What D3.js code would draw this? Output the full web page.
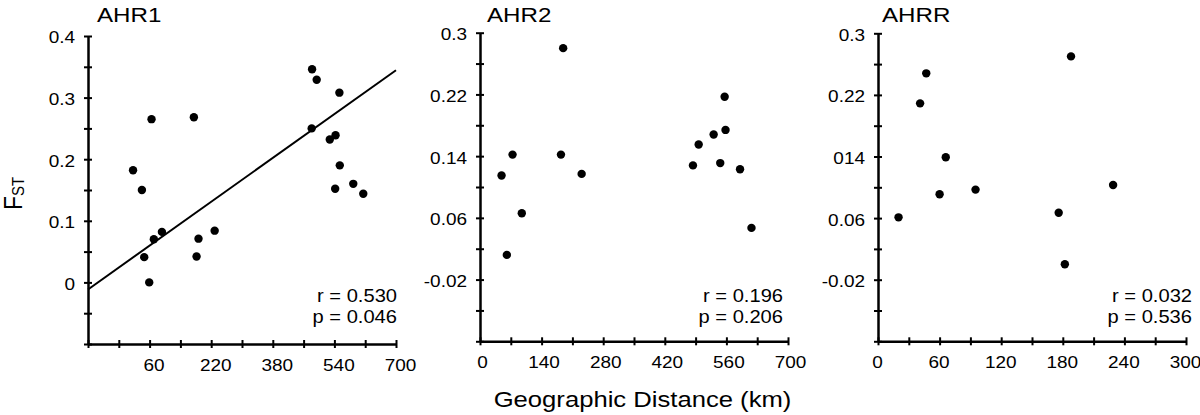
<!DOCTYPE html>
<html>
<head>
<meta charset="utf-8">
<script src="https://cdn.jsdelivr.net/npm/d3@7"></script>
<style>
    body { margin: 0; background: #fff; }
    svg { display: block; }
    text { font-family: "Liberation Sans", Arial, Helvetica, sans-serif; fill: #000; }
</style>
</head>
<body>
<div class="fst-chart"></div>
<script>
// 数据：地理距离 (km) 与 FST
const ahr1Dist = [17, 40, 65, 175, 46, 59, 71, 92, 182, 187, 229, 482, 494, 553, 481, 528, 543, 554, 542, 589, 615]
const ahr1Fst = [0.182, 0.150, 0.265, 0.268, 0.041, 0.000, 0.070, 0.082, 0.042, 0.071, 0.084, 0.346, 0.329, 0.308, 0.250, 0.232, 0.239, 0.190, 0.152, 0.160, 0.144]

const ahr2Dist = [49, 61, 74, 95, 189, 184, 231, 484, 497, 531, 556, 558, 546, 591, 617]
const ahr2Fst = [0.115, 0.012, 0.142, 0.066, 0.280, 0.142, 0.117, 0.128, 0.155, 0.168, 0.217, 0.174, 0.131, 0.123, 0.047]

const ahrrDist = [20, 41, 47, 60, 66, 95, 176, 182, 188, 229]
const ahrrFst = [0.061, 0.209, 0.248, 0.091, 0.139, 0.097, 0.067, 0.000, 0.270, 0.103]

// 刻度标签
const ahr1XLabels = [60, 220, 380, 540, 700]
const ahr2XLabels = [0, 140, 280, 420, 560, 700]
const ahrrXLabels = [0, 60, 120, 180, 240, 300]
const ahr1YTicks = [0, 0.1, 0.2, 0.3, 0.4]
const ahr1YLabels = ['0', '0.1', '0.2', '0.3', '0.4']
const ahr2YTicks = [-0.02, 0.06, 0.14, 0.22, 0.3]
const ahr2YLabels = ['-0.02', '0.06', '0.14', '0.22', '0.3']
const ahrrYLabels = ['-0.02', '0.06', '014', '0.22', '0.3']

const panelTitles = ['AHR1', 'AHR2', 'AHRR']
const rValues = ['0.530', '0.196', '0.032']
const pValues = ['0.046', '0.206', '0.536']

const width = 1200
const height = 415
const stretch = 1.15   // 原图文字横向被拉宽

const panels = [
    { title: panelTitles[0], xs: ahr1Dist, ys: ahr1Fst, fit: true,
      left: 88, right: 396, top: 36, bottom: 344,
      xDomain: [-100, 700], xStep: 80, xLabels: ahr1XLabels, xShift: 4,
      yDomain: [-0.1, 0.4], yStep: 0.05, yTicks: ahr1YTicks, yLabels: ahr1YLabels,
      titleX: 97, statX: 397, r: rValues[0], p: pValues[0] },
    { title: panelTitles[1], xs: ahr2Dist, ys: ahr2Fst, fit: false,
      left: 480, right: 788, top: 32.7, bottom: 341.3,
      xDomain: [0, 700], xStep: 70, xLabels: ahr2XLabels, xShift: 2,
      yDomain: [-0.1, 0.3], yStep: 0.04, yTicks: ahr2YTicks, yLabels: ahr2YLabels,
      titleX: 487, statX: 783, r: rValues[1], p: pValues[1] },
    { title: panelTitles[2], xs: ahrrDist, ys: ahrrFst, fit: false,
      left: 878, right: 1186, top: 33.3, bottom: 341.3,
      xDomain: [0, 300], xStep: 30, xLabels: ahrrXLabels, xShift: -1,
      yDomain: [-0.1, 0.3], yStep: 0.04, yTicks: ahr2YTicks, yLabels: ahrrYLabels,
      titleX: 882, statX: 1192, r: rValues[2], p: pValues[2] }
]

const svg = d3.select('.fst-chart')
    .append('svg')
    .attr('width', width)
    .attr('height', height)

function steps(domain, step) {
    let n = Math.round((domain[1] - domain[0]) / step)
    return d3.range(n + 1).map(i => domain[0] + i * step)
}

function findLabel(values, labels, v) {
    let i = values.findIndex(d => Math.abs(d - v) < 1e-9)
    return i < 0 ? '' : labels[i]
}

function drawPanel(cfg) {
    let xScale = d3.scaleLinear().domain(cfg.xDomain).range([cfg.left, cfg.right])
    let yScale = d3.scaleLinear().domain(cfg.yDomain).range([cfg.bottom, cfg.top])
    let g = svg.append('g')

    //x轴
    let xAxis = d3.axisBottom(xScale)
        .tickValues(steps(cfg.xDomain, cfg.xStep))
        .tickSizeInner(4)
        .tickSizeOuter(0)
        .tickFormat(v => findLabel(cfg.xLabels, cfg.xLabels.map(String), v))
    let gx = g.append('g')
        .attr('transform', 'translate(0,' + cfg.bottom + ')')
        .call(xAxis)
    gx.selectAll('.tick line').attr('y1', -4).attr('stroke-width', 2)
    gx.selectAll('.tick text')
        .style('font-size', '16.5px')
        .attr('y', 0).attr('dy', 0)
        .attr('transform', 'translate(' + cfg.xShift + ',27) scale(' + stretch + ',1)')

    //y轴
    let yAxis = d3.axisLeft(yScale)
        .tickValues(steps(cfg.yDomain, cfg.yStep))
        .tickSizeInner(4)
        .tickSizeOuter(0)
        .tickFormat(v => findLabel(cfg.yTicks, cfg.yLabels, v))
    let gy = g.append('g')
        .attr('transform', 'translate(' + cfg.left + ',0)')
        .call(yAxis)
    gy.selectAll('.tick line').attr('x1', 4).attr('stroke-width', 2)
    gy.selectAll('.tick text')
        .style('font-size', '16.5px')
        .attr('x', -13 / stretch)
        .attr('dy', '0.42em')
        .attr('transform', 'scale(' + stretch + ',1)')

    g.selectAll('.domain').attr('stroke-width', 2.5)
    g.selectAll('.tick line').attr('stroke', '#000')
    g.selectAll('.domain').attr('stroke', '#000')

    //回归线（约化主轴，过均值点）
    if (cfg.fit) {
        let mx = d3.mean(cfg.xs), my = d3.mean(cfg.ys)
        let slope = d3.deviation(cfg.ys) / d3.deviation(cfg.xs)
        let line = d3.line().x(d => xScale(d)).y(d => yScale(my + slope * (d - mx)))
        g.append('path')
            .attr('d', line(cfg.xDomain))
            .attr('fill', 'none')
            .attr('stroke', '#000')
            .attr('stroke-width', 2)
    }

    //散点
    g.selectAll('circle')
        .data(cfg.xs)
        .enter()
        .append('circle')
        .attr('cx', d => xScale(d))
        .attr('cy', (d, i) => yScale(cfg.ys[i]))
        .attr('r', 4.2)
        .attr('fill', '#000')

    //标题
    g.append('text')
        .attr('transform', 'translate(' + cfg.titleX + ',22) scale(' + stretch + ',1)')
        .style('font-size', '21px')
        .text(cfg.title)

    //r 与 p
    g.append('text')
        .attr('transform', 'translate(' + cfg.statX + ',302) scale(' + stretch + ',1)')
        .attr('text-anchor', 'end')
        .style('font-size', '17.5px')
        .text('r = ' + cfg.r)
    g.append('text')
        .attr('transform', 'translate(' + cfg.statX + ',323) scale(' + stretch + ',1)')
        .attr('text-anchor', 'end')
        .style('font-size', '17.5px')
        .text('p = ' + cfg.p)
}

panels.forEach(drawPanel)

// y轴标题 F_ST
let yTitle = svg.append('text')
    .attr('transform', 'translate(22,193.5) scale(' + stretch + ',1) rotate(-90)')
    .attr('text-anchor', 'middle')
    .style('font-size', '23px')
yTitle.append('tspan').text('F')
yTitle.append('tspan').style('font-size', '15px').attr('dy', 1.5).text('ST')

// x轴标题
svg.append('text')
    .attr('transform', 'translate(642.5,407) scale(' + stretch + ',1)')
    .attr('text-anchor', 'middle')
    .style('font-size', '22.3px')
    .text('Geographic Distance (km)')
</script>
</body>
</html>
